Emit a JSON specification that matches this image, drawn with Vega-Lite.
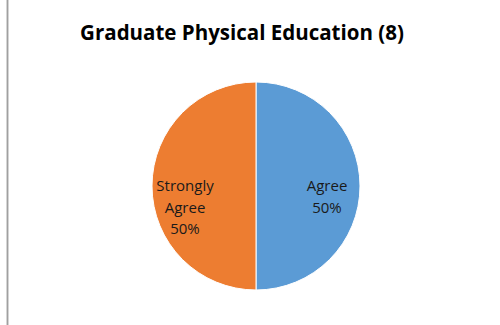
{
  "$schema": "https://vega.github.io/schema/vega-lite/v6.json",
  "width": 498,
  "height": 372,
  "autosize": "none",
  "padding": {"left": 7, "top": 0, "right": 0, "bottom": 0},
  "background": "white",
  "config": {"view": {"stroke": null}},
  "title": {
    "text": "Graduate Physical Education (8)",
    "font": "Open Sans",
    "fontSize": 20.5,
    "fontWeight": "bold",
    "color": "#000000",
    "anchor": "middle",
    "offset": -45,
    "dx": -14
  },
  "data": {
    "values": [
      {"response": "Agree", "value": 4},
      {"response": "Strongly Agree", "value": 4}
    ]
  },
  "layer": [
    {
      "mark": {"type": "rule", "color": "#a0a0a0", "strokeWidth": 1.5},
      "encoding": {
        "x": {"datum": 0, "type": "quantitative", "scale": {"domain": [0, 1], "range": [0.5, 498]}, "axis": null}
      }
    },
    {
      "mark": {"type": "arc", "outerRadius": 104, "stroke": "white", "strokeWidth": 1},
      "encoding": {
        "theta": {"field": "value", "type": "quantitative", "stack": true},
        "color": {
          "field": "response",
          "type": "nominal",
          "scale": {"domain": ["Agree", "Strongly Agree"], "range": ["#5B9BD5", "#ED7D31"]},
          "legend": null
        }
      }
    },
    {
      "transform": [
        {"calculate": "datum.response == 'Agree' ? ['Agree', '50%'] : ['Strongly', 'Agree', '50%']", "as": "lines"}
      ],
      "mark": {
        "type": "text",
        "radius": 71,
        "font": "Open Sans",
        "fontSize": 15,
        "lineHeight": 21.5,
        "baseline": "top",
        "dy": -7,
        "color": "#1a1a1a"
      },
      "encoding": {
        "theta": {"field": "value", "type": "quantitative", "stack": true},
        "order": {"field": "response"},
        "text": {"field": "lines"}
      }
    }
  ]
}
